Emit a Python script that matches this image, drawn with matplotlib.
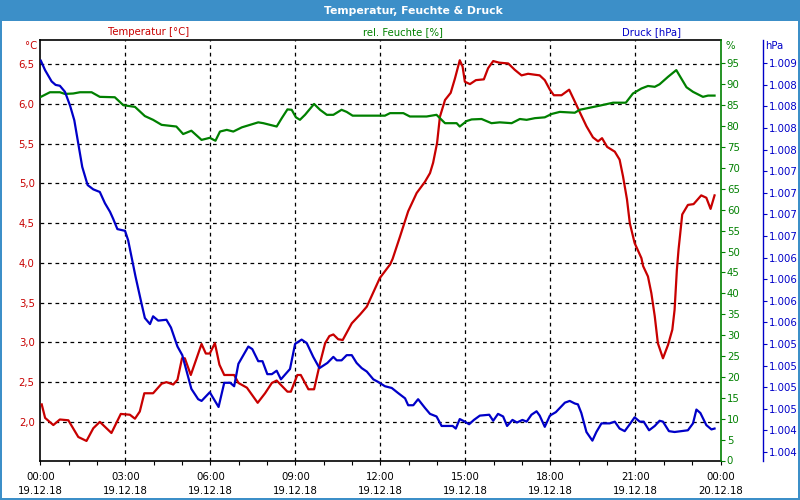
import numpy as np
import matplotlib
matplotlib.use("Agg")
import matplotlib.pyplot as plt
from matplotlib.patches import Rectangle

# ---------------- data ----------------
temp_hours = [0.05, 0.17, 0.46, 0.69, 0.99, 1.34, 1.63, 1.87, 2.10, 2.51, 2.84, 3.16, 3.34, 3.51, 3.67,
              3.98, 4.28, 4.45, 4.69, 4.84, 5.00, 5.10, 5.31, 5.69, 5.84, 5.98, 6.16, 6.32, 6.49, 6.84,
              6.99, 7.29, 7.67, 7.93, 8.17, 8.34, 8.72, 8.84, 9.07, 9.19, 9.46, 9.66, 9.87, 10.05, 10.20,
              10.34, 10.51, 10.67, 10.99, 11.28, 11.52, 11.98, 12.34, 12.43, 12.69, 12.98, 13.28, 13.57,
              13.75, 13.86, 14.00, 14.10, 14.28, 14.48, 14.63, 14.80, 14.90, 14.98, 15.16, 15.37, 15.65,
              15.80, 15.98, 16.19, 16.51, 16.74, 16.98, 17.21, 17.41, 17.62, 17.80, 17.98, 18.12, 18.39,
              18.66, 18.86, 19.03, 19.27, 19.50, 19.68, 19.82, 20.00, 20.27, 20.44, 20.56, 20.70, 20.80,
              20.97, 21.21, 21.27, 21.44, 21.56, 21.68, 21.79, 21.97, 22.15, 22.30, 22.38, 22.46, 22.52,
              22.65, 22.85, 23.05, 23.32, 23.50, 23.65, 23.79]
temperature = [2.22, 2.05, 1.96, 2.03, 2.02, 1.81, 1.76, 1.92, 2.00, 1.86, 2.10, 2.09, 2.04, 2.13, 2.36,
               2.36, 2.48, 2.50, 2.47, 2.53, 2.80, 2.80, 2.59, 2.98, 2.86, 2.86, 2.99, 2.72, 2.59, 2.59,
               2.49, 2.43, 2.24, 2.36, 2.49, 2.52, 2.38, 2.38, 2.59, 2.59, 2.41, 2.41, 2.74, 2.99, 3.08,
               3.10, 3.04, 3.03, 3.24, 3.35, 3.45, 3.81, 3.98, 4.05, 4.33, 4.65, 4.88, 5.02,
               5.13, 5.26, 5.51, 5.84, 6.05, 6.14, 6.32, 6.55, 6.47, 6.28, 6.25, 6.30, 6.31,
               6.45, 6.54, 6.52, 6.51, 6.43, 6.36, 6.38, 6.37, 6.36, 6.30, 6.18, 6.11, 6.11,
               6.18, 6.03, 5.90, 5.72, 5.58, 5.53, 5.57, 5.46, 5.40, 5.30, 5.09, 4.80, 4.50,
               4.25, 4.06, 3.96, 3.83, 3.62, 3.33, 2.99, 2.80, 2.97, 3.16, 3.41, 3.91, 4.17,
               4.61, 4.73, 4.74, 4.85, 4.82, 4.68, 4.85]

hum_hours = [0.02, 0.34, 0.69, 0.87, 1.16, 1.40, 1.81, 2.10, 2.63, 2.93, 3.34, 3.69, 3.98, 4.28, 4.80,
             5.04, 5.33, 5.69, 5.98, 6.18, 6.34, 6.58, 6.81, 7.11, 7.40, 7.69, 7.87, 8.34, 8.52, 8.72,
             8.87, 9.02, 9.16, 9.34, 9.66, 9.87, 10.11, 10.34, 10.63, 10.81, 11.02, 12.16, 12.34, 12.81,
             13.04, 13.63, 13.98, 14.28, 14.69, 14.80, 15.04, 15.22, 15.57, 15.92, 16.21, 16.63, 16.92,
             17.16, 17.45, 17.80, 18.04, 18.33, 18.86, 19.03, 19.74, 20.21, 20.66, 20.91, 21.21, 21.44,
             21.68, 21.85, 22.15, 22.44, 22.80, 23.03, 23.38, 23.56, 23.79]
humidity = [87.0, 88.1, 88.1, 87.7, 87.8, 88.1, 88.1, 87.0, 86.9, 85.0, 84.6, 82.4, 81.5, 80.3, 79.9,
            78.1, 78.9, 76.7, 77.2, 76.5, 78.7, 79.1, 78.7, 79.7, 80.3, 80.9, 80.7, 79.9, 81.9, 84.0,
            83.9, 82.1, 81.5, 82.7, 85.3, 83.9, 82.7, 82.7, 83.9, 83.4, 82.5, 82.5, 83.1, 83.1,
            82.3, 82.3, 82.7, 80.7, 80.7, 79.9, 81.2, 81.6, 81.7, 80.7, 80.9, 80.7, 81.7,
            81.5, 81.9, 82.1, 82.9, 83.4, 83.2, 83.9, 84.9, 85.6, 85.6, 87.8, 89.0, 89.6,
            89.4, 90.0, 91.8, 93.4, 89.3, 88.2, 87.0, 87.3, 87.3]

pres_hours = [0.02, 0.17, 0.40, 0.54, 0.69, 0.87, 1.05, 1.20, 1.34, 1.48, 1.67, 1.87, 2.10, 2.28, 2.46,
              2.57, 2.72, 2.99, 3.10, 3.36, 3.57, 3.69, 3.87, 3.98, 4.16, 4.45, 4.61, 4.84, 5.01, 5.33,
              5.57, 5.69, 5.98, 6.29, 6.49, 6.70, 6.84, 6.99, 7.34, 7.48, 7.69, 7.84, 8.01, 8.17, 8.34,
              8.49, 8.81, 8.99, 9.22, 9.40, 9.63, 9.85, 10.13, 10.34, 10.46, 10.63, 10.81, 10.99, 11.16,
              11.34, 11.52, 11.75, 11.92, 12.16, 12.40, 12.63, 12.87, 12.98, 13.16, 13.33, 13.57, 13.75,
              13.98, 14.16, 14.55, 14.66, 14.80, 14.98, 15.13, 15.30, 15.51, 15.84, 15.98, 16.15, 16.33,
              16.47, 16.66, 16.82, 17.01, 17.16, 17.33, 17.51, 17.62, 17.80, 17.98, 18.19, 18.51, 18.68,
              18.86, 18.97, 19.09, 19.27, 19.48, 19.62, 19.80, 20.09, 20.27, 20.44, 20.62, 20.80, 20.97,
              21.15, 21.29, 21.48, 21.68, 21.85, 21.97, 22.18, 22.38, 22.85, 23.03, 23.15, 23.29, 23.50,
              23.68, 23.79]
pressure = [1008.53, 1008.42, 1008.29, 1008.25, 1008.24, 1008.17, 1008.01, 1007.84, 1007.57, 1007.30,
            1007.09, 1007.04, 1007.01, 1006.88, 1006.78, 1006.70, 1006.58, 1006.56, 1006.45, 1006.03,
            1005.72, 1005.55, 1005.48, 1005.57, 1005.52, 1005.53, 1005.44, 1005.22, 1005.12, 1004.73,
            1004.61, 1004.59, 1004.69, 1004.52, 1004.80, 1004.80, 1004.76, 1005.02, 1005.22, 1005.19,
            1005.05, 1005.05, 1004.90, 1004.90, 1004.94, 1004.84, 1004.96, 1005.25, 1005.30, 1005.26,
            1005.10, 1004.97, 1005.03, 1005.10, 1005.06, 1005.06, 1005.12, 1005.12, 1005.03, 1004.97,
            1004.93, 1004.84, 1004.81, 1004.76, 1004.74, 1004.68, 1004.62, 1004.54, 1004.54, 1004.61,
            1004.51, 1004.44, 1004.41, 1004.30, 1004.30, 1004.27, 1004.38, 1004.35, 1004.32, 1004.37,
            1004.42, 1004.43, 1004.36, 1004.44, 1004.41, 1004.30, 1004.37, 1004.34, 1004.37, 1004.35,
            1004.43, 1004.47, 1004.42, 1004.29, 1004.42, 1004.46, 1004.57, 1004.59, 1004.56, 1004.55,
            1004.45, 1004.23, 1004.13, 1004.23, 1004.33, 1004.33, 1004.35, 1004.27, 1004.24, 1004.32,
            1004.40, 1004.35, 1004.35, 1004.25, 1004.30, 1004.36, 1004.35, 1004.24, 1004.23, 1004.25,
            1004.33, 1004.49, 1004.45, 1004.31, 1004.26, 1004.27]

x_tick_hours = [0, 3, 6, 9, 12, 15, 18, 21, 24]
x_tick_labels = ["00:00\n19.12.18", "03:00\n19.12.18", "06:00\n19.12.18", "09:00\n19.12.18",
                 "12:00\n19.12.18", "15:00\n19.12.18", "18:00\n19.12.18", "21:00\n19.12.18",
                 "00:00\n20.12.18"]
temp_ticks = [2.0, 2.5, 3.0, 3.5, 4.0, 4.5, 5.0, 5.5, 6.0, 6.5]
temp_tick_labels = ["2,0", "2,5", "3,0", "3,5", "4,0", "4,5", "5,0", "5,5", "6,0", "6,5"]
hum_ticks = [0, 5, 10, 15, 20, 25, 30, 35, 40, 45, 50, 55, 60, 65, 70, 75, 80, 85, 90, 95]
pres_ticks = [1004.0, 1004.25, 1004.5, 1004.75, 1005.0, 1005.25, 1005.5, 1005.75, 1006.0, 1006.25,
              1006.5, 1006.75, 1007.0, 1007.25, 1007.5, 1007.75, 1008.0, 1008.25, 1008.5]
pres_tick_labels = ["1.004", "1.004", "1.005", "1.005", "1.005", "1.005", "1.006", "1.006", "1.006",
                    "1.006", "1.007", "1.007", "1.007", "1.007", "1.008", "1.008", "1.008", "1.008",
                    "1.009"]

RED = "#c80000"
GREEN = "#008000"
BLUE = "#0000c8"
FRAME = "#3c8fc8"
FS = 7.3

plt.rcParams['font.family'] = ['DejaVu Sans']

fig = plt.figure(figsize=(8, 5), dpi=100)
fig.patch.set_facecolor(FRAME)
fig.patches.append(Rectangle((2 / 800, 2 / 500), 796 / 800, 477 / 500, transform=fig.transFigure,
                             facecolor="white", edgecolor="none", zorder=-10))
fig.text(413 / 800, 1 - 10.5 / 500, "Temperatur, Feuchte & Druck", color="white", fontsize=7.8,
         fontweight="bold", ha="center", va="center")

ax = fig.add_axes([40.3 / 800, 1 - 460.5 / 500, (720.5 - 40.3) / 800, (460.5 - 40) / 500])
ax.set_facecolor("none")
ax.set_xlim(0, 24)
ax.set_ylim(1.514, 6.805)

ax_h = ax.twinx()
ax_h.set_ylim(0, 100.6)
ax_p = ax.twinx()
ax_p.set_ylim(1003.90, 1008.77)
ax_p.spines["right"].set_position(("outward", 30.3))

ax.plot(temp_hours, temperature, color=RED, lw=1.6, zorder=3)
ax_h.plot(hum_hours, humidity, color=GREEN, lw=1.6, zorder=3)
ax_p.plot(pres_hours, pressure, color=BLUE, lw=1.6, zorder=3)

# grid
for h in x_tick_hours[1:-1]:
    ax.axvline(h, color="black", lw=0.9, ls=(0, (3, 3)), zorder=1)
for t in temp_ticks:
    ax.axhline(t, color="black", lw=0.9, ls=(0, (3, 3)), zorder=1)

# x axis
ax.set_xticks(x_tick_hours)
ax.set_xticklabels(x_tick_labels, fontsize=FS, linespacing=1.55)
ax.set_xticks(range(0, 25), minor=True)
ax.tick_params(axis="x", which="both", direction="out", length=3, width=0.8, pad=5, color="black")

# temperature axis
ax.set_yticks(temp_ticks)
ax.set_yticklabels(temp_tick_labels, fontsize=FS, color=RED)
ax.tick_params(axis="y", length=0, pad=4)

# humidity axis
ax_h.set_yticks(hum_ticks)
ax_h.set_yticklabels([str(v) for v in hum_ticks], fontsize=FS, color=GREEN)
ax_h.tick_params(axis="y", direction="out", length=3, width=0.8, color=GREEN, pad=1.5)

# pressure axis
ax_p.set_yticks(pres_ticks)
ax_p.set_yticklabels(pres_tick_labels, fontsize=FS, color=BLUE)
ax_p.tick_params(axis="y", direction="out", length=3, width=0.8, color=BLUE, pad=1.5)

for s in ["left", "top", "bottom"]:
    ax.spines[s].set_color("black")
    ax.spines[s].set_linewidth(1.2)
ax.spines["right"].set_visible(False)
for s in ["left", "top", "bottom"]:
    ax_h.spines[s].set_visible(False)
    ax_p.spines[s].set_visible(False)
ax_h.spines["right"].set_color(GREEN)
ax_h.spines["right"].set_linewidth(1.2)
ax_p.spines["right"].set_color(BLUE)
ax_p.spines["right"].set_linewidth(1.0)

# axis header labels
fig.text(149 / 800, 1 - 32 / 500, "Temperatur [°C]", color=RED, fontsize=FS, ha="center", va="center")
fig.text(403 / 800, 1 - 32 / 500, "rel. Feuchte [%]", color=GREEN, fontsize=FS, ha="center", va="center")
fig.text(652 / 800, 1 - 32 / 500, "Druck [hPa]", color=BLUE, fontsize=FS, ha="center", va="center")
fig.text(37 / 800, 1 - 46 / 500, "°C", color=RED, fontsize=FS, ha="right", va="center")
fig.text(725 / 800, 1 - 46 / 500, "%", color=GREEN, fontsize=FS, ha="left", va="center")
fig.text(765 / 800, 1 - 46 / 500, "hPa", color=BLUE, fontsize=FS, ha="left", va="center")

fig.savefig("out.png", dpi=100, facecolor=fig.get_facecolor())
